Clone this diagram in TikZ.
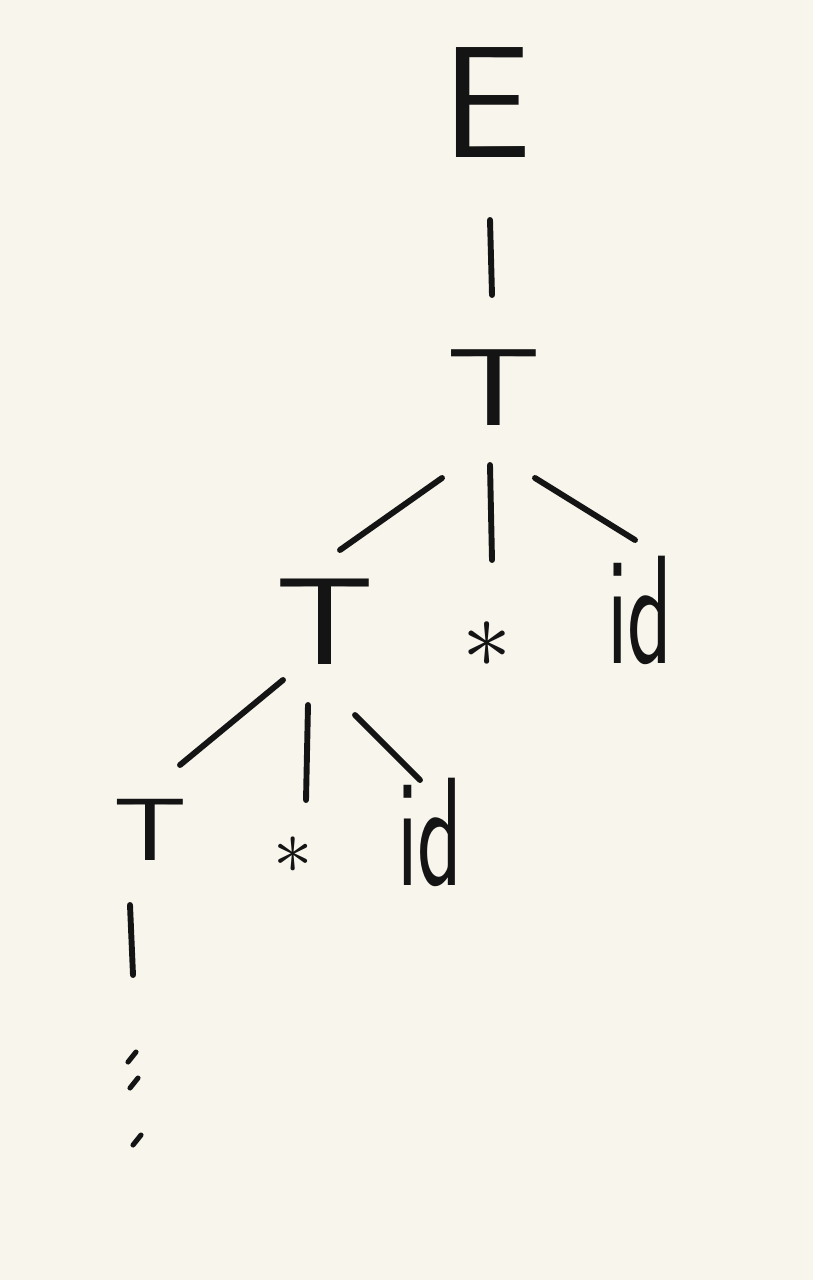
\documentclass[tikz,border=0pt]{standalone}
\usepackage{tikz}
\definecolor{paper}{HTML}{F8F5EC}
\definecolor{ink}{HTML}{141414}
\tikzset{
    %Define style for grammar symbols
    sym/.style={
           inner sep=0pt,
           text=ink,
           font=\sffamily\fontsize{100}{100}\selectfont},
    %Define style for the operator
    op/.style={
           inner sep=0pt,
           text=ink,
           scale=7},
    % Define branch style
    br/.style={
           draw=ink,
           line width=4.2pt,
           line cap=round}
}

\begin{document}
\begin{tikzpicture}[x=0.025cm,y=-0.025cm]
\fill[paper] (0,0) rectangle (813,1280);
 %nodes
\node[sym,scale=1.13](E) at (487,103){E};
\node[sym,scale=.78,xscale=1.35](T1) at (494,388){T};
\node[sym,scale=.88,xscale=1.25](T2) at (325,622){T};
\node[op](s1) at (487,645){$\ast$};
\node[sym,scale=1.1,xscale=.6](id1) at (640,610){id};
\node[sym,scale=.63,xscale=1.3](T3) at (150,830){T};
\node[op,scale=.8](s2) at (293,855){$\ast$};
\node[sym,scale=1.1,xscale=.6](id2) at (430,832){id};
\coordinate (more) at (133,975);
 %branches
\draw[br] ([shift={(3,117)}]E.center) -- ([shift={(-2,-93)}]T1.center);
\draw[br] ([shift={(-52,90)}]T1.center) -- ([shift={(15,-72)}]T2.center);
\draw[br] ([shift={(-4,77)}]T1.center) -- ([shift={(5,-85)}]s1.center);
\draw[br] ([shift={(41,90)}]T1.center) -- ([shift={(-5,-70)}]id1.center);
\draw[br] ([shift={(-42,58)}]T2.center) -- ([shift={(30,-65)}]T3.center);
\draw[br] ([shift={(-17,83)}]T2.center) -- ([shift={(13,-55)}]s2.center);
\draw[br] ([shift={(30,93)}]T2.center) -- ([shift={(-10,-52)}]id2.center);
\draw[br] ([shift={(-20,75)}]T3.center) -- (more);
\foreach \dx/\dy in {-1/82,1/108,4/165}
  \draw[br,line width=3.6pt] ([shift={(\dx-4,\dy+5)}]more) -- ([shift={(\dx+4,\dy-5)}]more);
\end{tikzpicture}
\end{document}
